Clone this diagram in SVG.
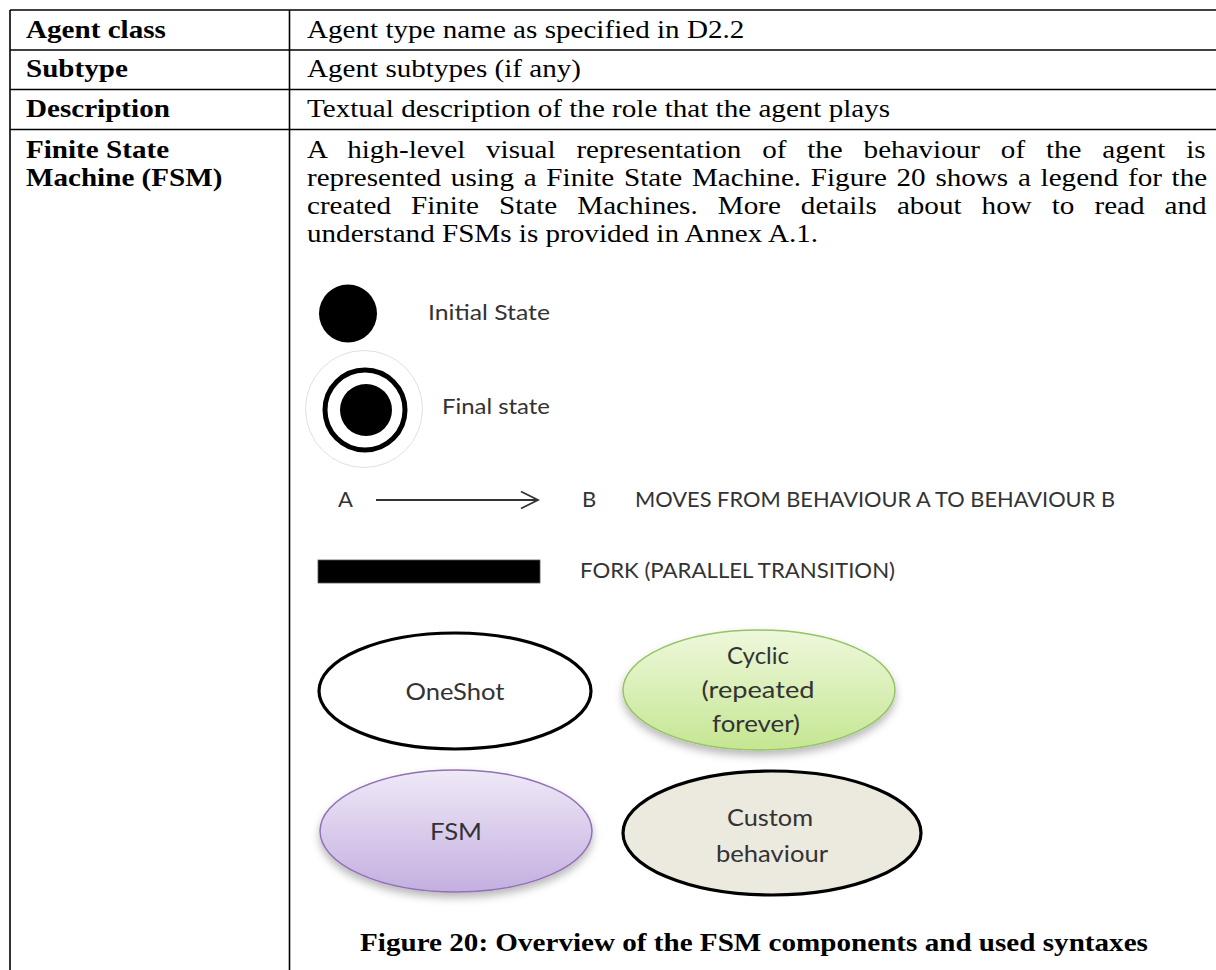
<svg xmlns="http://www.w3.org/2000/svg" width="1216" height="970" viewBox="0 0 1216 970">
<defs>
<style>
.grid{stroke:#000;stroke-width:1.6;fill:none}
.t{font-family:"Liberation Serif","Times New Roman",serif;font-size:26px;fill:#000}
.b{font-weight:bold}
.lg{font-family:Lato,"Open Sans",sans-serif;fill:#333;font-size:22px}
.el{font-family:Lato,"Open Sans",sans-serif;fill:#333;font-size:24px;text-anchor:middle}
</style>
<linearGradient id="gGreen" x1="0" y1="0" x2="0" y2="1"><stop offset="0" stop-color="#eef8dc"/><stop offset="1" stop-color="#c5e692"/></linearGradient>
<linearGradient id="gPurple" x1="0" y1="0" x2="0" y2="1"><stop offset="0" stop-color="#efe9f7"/><stop offset="1" stop-color="#c4afe0"/></linearGradient>
<filter id="sh" x="-20%" y="-20%" width="140%" height="150%"><feDropShadow dx="0" dy="5" stdDeviation="4" flood-color="#000" flood-opacity="0.28"/></filter>
<filter id="soft" x="-10%" y="-10%" width="120%" height="120%"><feGaussianBlur stdDeviation="0.7"/></filter>
<marker id="chev" markerWidth="22" markerHeight="22" refX="19" refY="10" orient="auto" markerUnits="userSpaceOnUse"><polyline points="2,1.5 19,10 2,18.5" fill="none" stroke="#333" stroke-width="1.8"/></marker>
</defs>
<rect width="1216" height="970" fill="#fff"/>

<g id="table-grid" class="grid">
<line x1="10" y1="10" x2="1216" y2="10"/>
<line x1="10" y1="50" x2="1216" y2="50"/>
<line x1="10" y1="89.5" x2="1216" y2="89.5"/>
<line x1="10" y1="129.5" x2="1216" y2="129.5"/>
<line x1="10" y1="10" x2="10" y2="970"/>
<line x1="289.5" y1="10" x2="289.5" y2="970"/>
</g>

<g id="table-text" class="t" transform="scale(1.12,1)">
<text class="b" x="23.2" y="38">Agent class</text>
<text class="b" x="23.2" y="77">Subtype</text>
<text class="b" x="23.2" y="117">Description</text>
<text class="b" x="23.2" y="158">Finite State</text>
<text class="b" x="23.2" y="186">Machine (FSM)</text>
<text x="274.1" y="38">Agent type name as specified in D2.2</text>
<text x="274.1" y="77">Agent subtypes (if any)</text>
<text x="274.1" y="117">Textual description of the role that the agent plays</text>
<text x="274.1" y="158" word-spacing="12.1">A high-level visual representation of the behaviour of the agent is</text>
<text x="274.1" y="186" word-spacing="2.2">represented using a Finite State Machine. Figure 20 shows a legend for the</text>
<text x="274.1" y="214" word-spacing="11.4">created Finite State Machines. More details about how to read and</text>
<text x="274.1" y="242">understand FSMs is provided in Annex A.1.</text>
<text class="b" x="673.2" y="951" text-anchor="middle">Figure 20: Overview of the FSM components and used syntaxes</text>
</g>

<g id="initial-state">
<circle cx="348" cy="313.5" r="29" fill="#000" filter="url(#soft)"/>
<text class="lg" x="428" y="320" textLength="122" lengthAdjust="spacingAndGlyphs">Initial State</text>
</g>

<g id="final-state">
<circle cx="364" cy="409" r="58.5" fill="none" stroke="#e0e0e0" stroke-width="1"/>
<circle cx="365" cy="410" r="40" fill="none" stroke="#000" stroke-width="5" filter="url(#soft)"/>
<circle cx="366" cy="410" r="26" fill="#000" filter="url(#soft)"/>
<text class="lg" x="442" y="414" textLength="108" lengthAdjust="spacingAndGlyphs">Final state</text>
</g>

<g id="transition-legend">
<text class="lg" x="338" y="507">A</text>
<text class="lg" x="582" y="507">B</text>
<text class="lg" x="635" y="507" textLength="480" lengthAdjust="spacingAndGlyphs">MOVES FROM BEHAVIOUR A TO BEHAVIOUR B</text>
</g>

<g id="connectors">
<line x1="376" y1="500" x2="538" y2="500" stroke="#333" stroke-width="1.8" marker-end="url(#chev)"/>
</g>

<g id="fork">
<rect x="318" y="560" width="222" height="23" fill="#000" stroke="#555" stroke-width="0.8"/>
<text class="lg" x="580" y="578" textLength="315" lengthAdjust="spacingAndGlyphs">FORK (PARALLEL TRANSITION)</text>
</g>

<g id="oneshot">
<ellipse cx="455" cy="691" rx="136" ry="58" fill="#fff" stroke="#000" stroke-width="3.2"/>
<text class="el" x="455" y="700" textLength="99" lengthAdjust="spacingAndGlyphs">OneShot</text>
</g>

<g id="cyclic">
<ellipse cx="759" cy="690" rx="136" ry="60" fill="url(#gGreen)" stroke="#94c463" stroke-width="1.5" filter="url(#sh)"/>
<text class="el" x="758" y="664" textLength="62" lengthAdjust="spacingAndGlyphs">Cyclic</text>
<text class="el" x="758" y="698" textLength="113" lengthAdjust="spacingAndGlyphs">(repeated</text>
<text class="el" x="756" y="732" textLength="88" lengthAdjust="spacingAndGlyphs">forever)</text>
</g>

<g id="fsm">
<ellipse cx="456" cy="831" rx="136" ry="61" fill="url(#gPurple)" stroke="#9270b6" stroke-width="1.5" filter="url(#sh)"/>
<text class="el" x="456" y="840" textLength="52" lengthAdjust="spacingAndGlyphs">FSM</text>
</g>

<g id="custom-behaviour">
<ellipse cx="772" cy="833" rx="149" ry="62" fill="#ece9df" stroke="#000" stroke-width="3.2"/>
<text class="el" x="770" y="826" textLength="86" lengthAdjust="spacingAndGlyphs">Custom</text>
<text class="el" x="772" y="862" textLength="112" lengthAdjust="spacingAndGlyphs">behaviour</text>
</g>
</svg>
